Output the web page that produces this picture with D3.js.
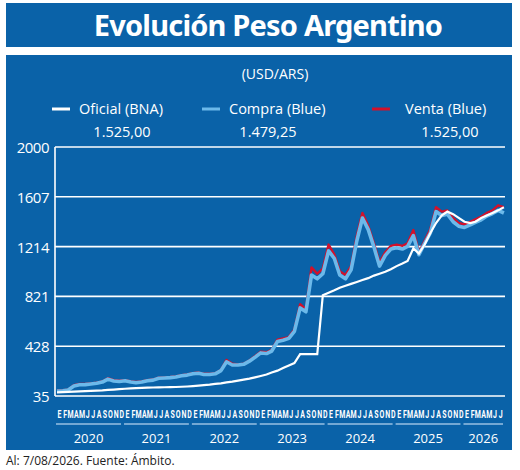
<!DOCTYPE html>
<html><head><meta charset="utf-8">
<script src="https://cdn.jsdelivr.net/npm/d3@7"></script>
<style>body{margin:0;background:#fff}</style>
</head><body><div id="chart"></div>
<script>
// Monthly values, Jan 2020 .. Aug 2026
const years = ['2020', '2021', '2022', '2023', '2024', '2025', '2026'];
const monthLetters = ['E', 'F', 'M', 'A', 'M', 'J', 'J', 'A', 'S', 'O', 'N', 'D'];
const yTicks = [35, 428, 821, 1214, 1607, 2000];
const oficial = [
  63, 65, 67, 70, 72, 74, 76, 78, 80, 83, 86, 89,
  92, 95, 97, 99, 101, 102, 103, 104, 105, 106, 108, 110,
  113, 117, 121, 125, 130, 135, 142, 148, 156, 164, 172, 182,
  193, 205, 220, 235, 255, 275, 295, 365, 365, 365, 365, 830,
  850, 870, 890, 905, 920, 935, 950, 965, 985, 1000, 1015, 1035,
  1060, 1080, 1100, 1200, 1160, 1230, 1320, 1400, 1460, 1490, 1470, 1440,
  1410, 1400, 1410, 1440, 1460, 1480, 1500, 1525
];
const venta = [
  78, 80, 85, 120, 130, 130, 135, 140, 150, 175, 160, 155,
  160, 150, 145, 150, 160, 165, 180, 182, 185, 190, 200, 205,
  215, 220, 210, 210, 215, 240, 320, 290, 285, 290, 315, 350,
  385, 380, 400, 480, 490, 500, 560, 760, 720, 1050, 1000, 1040,
  1230, 1150, 1020, 990, 1060, 1300, 1480, 1380, 1240, 1090, 1170, 1220,
  1230, 1220, 1240, 1345, 1170, 1260, 1350, 1525, 1490, 1500, 1440, 1400,
  1390, 1410, 1430, 1450, 1480, 1500, 1540, 1525
];
const compra = [
  75, 77, 82, 114, 124, 125, 130, 135, 145, 168, 154, 149,
  155, 145, 140, 145, 155, 160, 175, 177, 180, 185, 195, 200,
  210, 215, 205, 205, 210, 235, 305, 280, 280, 285, 310, 340,
  375, 370, 390, 465, 475, 490, 545, 730, 700, 990, 960, 1000,
  1180, 1120, 990, 960, 1030, 1260, 1440, 1350, 1210, 1060, 1145, 1195,
  1205, 1195, 1215, 1300, 1150, 1240, 1320, 1490, 1460, 1470, 1410, 1375,
  1365, 1385, 1405, 1425, 1455, 1475, 1500, 1479.25
];
const legendNames = ['Oficial (BNA)', 'Compra (Blue)', 'Venta (Blue)'];
const legendValues = ['1.525,00', '1.479,25', '1.525,00'];

const bg = '#0a62a8';
const dates = oficial.map((_, i) => new Date(2020, i, 1));
const svg = d3.select('#chart').append('svg').attr('width', 520).attr('height', 470);

svg.append('rect').attr('x', 6).attr('y', 3).attr('width', 506).attr('height', 44).attr('fill', bg);
svg.append('text').attr('x', 268).attr('y', 36).attr('text-anchor', 'middle')
  .attr('fill', '#fff').attr('font-family', 'Noto Sans').attr('font-weight', 700)
  .attr('font-size', 29).attr('letter-spacing', -0.8).text('Evolución Peso Argentino');
svg.append('rect').attr('x', 6).attr('y', 55).attr('width', 506).attr('height', 395).attr('fill', bg);
svg.append('text').attr('x', 275).attr('y', 79).attr('text-anchor', 'middle')
  .attr('fill', '#fff').attr('font-family', 'Open Sans').attr('font-size', 14).text('(USD/ARS)');

// legend
const legendColors = ['#ffffff', '#6cb9ea', '#d2112b'];
const legendX = [52, 202, 372];
const valueX = [122, 268, 450];
legendNames.forEach((name, i) => {
  svg.append('line').attr('x1', legendX[i]).attr('x2', legendX[i] + 18).attr('y1', 109).attr('y2', 109)
    .attr('stroke', legendColors[i]).attr('stroke-width', 3);
  svg.append('text').attr('x', legendX[i] + (i === 2 ? 33 : 27)).attr('y', 114).attr('fill', '#fff')
    .attr('font-family', 'Open Sans').attr('font-size', 14.5).text(name);
  svg.append('text').attr('x', valueX[i]).attr('y', 137).attr('text-anchor', 'middle').attr('fill', '#fff')
    .attr('font-family', 'Open Sans').attr('font-size', 14.5).text(legendValues[i]);
});

const x = d3.scaleTime().domain([new Date(2020, 0, 1), new Date(2026, 7, 7)]).range([57, 505]);
const y = d3.scaleLinear().domain([35, 2000]).range([396, 147]);

svg.append('g').selectAll('line').data(yTicks).join('line')
  .attr('x1', 55).attr('x2', 505).attr('y1', (d) => y(d)).attr('y2', (d) => y(d))
  .attr('stroke', '#fff').attr('stroke-width', 1.6);
svg.append('line').attr('x1', 55).attr('x2', 55).attr('y1', y(2000)).attr('y2', y(35))
  .attr('stroke', '#fff').attr('stroke-width', 1.6);
svg.append('g').selectAll('text').data(yTicks).join('text')
  .attr('x', 49).attr('y', (d) => y(d) + 6).attr('text-anchor', 'end').attr('fill', '#fff')
  .attr('font-family', 'Open Sans').attr('font-size', 15).attr('letter-spacing', -0.5).text((d) => d);

const line = (arr) => d3.line().x((_, i) => x(dates[i])).y((d) => y(d))(arr);
svg.append('path').attr('d', line(venta)).attr('fill', 'none').attr('stroke', '#d2112b')
  .attr('stroke-width', 2.4).attr('stroke-linejoin', 'round');
svg.append('path').attr('d', line(compra)).attr('fill', 'none').attr('stroke', '#6cb9ea')
  .attr('stroke-width', 3.6).attr('stroke-linejoin', 'round');
svg.append('path').attr('d', line(oficial)).attr('fill', 'none').attr('stroke', '#fff').attr('stroke-width', 2.2);

// month letters (through July 2026)
svg.append('g').selectAll('text').data(dates.slice(0, -1)).join('text')
  .attr('x', (d) => x(d) + 2.5).attr('y', 418).attr('text-anchor', 'middle').attr('fill', '#fff')
  .attr('font-family', 'Roboto').attr('font-weight', 700).attr('font-size', 10)
  .attr('transform', (d) => `translate(${(x(d) + 2.5) * 0.3},0) scale(0.7,1)`)
  .text((d) => monthLetters[d.getMonth()]);

// year brackets
years.forEach((yr, i) => {
  const x0 = x(new Date(+yr, 0, 1)) - 1;
  const x1 = i === years.length - 1 ? 503 : x(new Date(+yr + 1, 0, 1)) - 4;
  svg.append('line').attr('x1', x0).attr('x2', x1).attr('y1', 424).attr('y2', 424)
    .attr('stroke', '#ddeeff').attr('stroke-width', 1);
  svg.append('text').attr('x', (x0 + x1) / 2).attr('y', 443).attr('text-anchor', 'middle')
    .attr('fill', '#fff').attr('font-family', 'Open Sans').attr('font-size', 13).text(yr);
});

svg.append('text').attr('x', 6).attr('y', 465).attr('fill', '#222').attr('font-family', 'Open Sans')
  .attr('font-size', 12).text('Al: 7/08/2026. Fuente: Ámbito.');
</script></body></html>
